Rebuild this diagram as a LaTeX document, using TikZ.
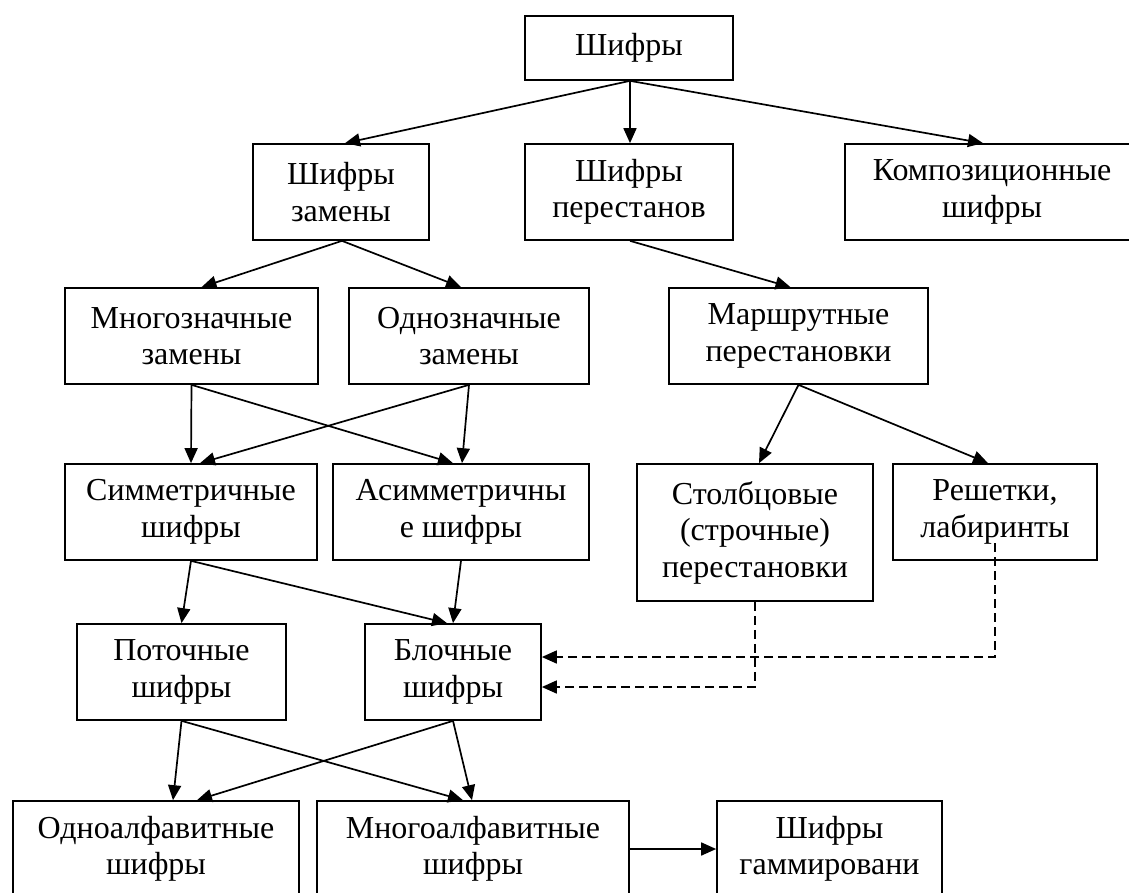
\documentclass[tikz,border=0pt]{standalone}
\usepackage{fontspec}
\setmainfont{Liberation Serif}
\usetikzlibrary{arrows.meta}
\begin{document}
\begin{tikzpicture}[x=1pt,y=-1pt,
  box/.style={draw,line width=1.7pt,align=center,inner sep=0pt,
    font=\fontsize{32}{36.5}\selectfont,minimum height=96pt},
  arr/.style={line width=1.7pt,-{Triangle[length=15pt,width=13pt]}},
  darr/.style={arr,dash pattern=on 9pt off 5pt}]
\useasboundingbox (0,0) rectangle (1129,892);
\clip (0,0) rectangle (1129,892);
\fill[white] (0,0) rectangle (1129,892);
% row 0
\node[box,minimum width=208pt,minimum height=64pt] (sh) at (629,48) {Шифры};
% row 1
\node[box,minimum width=176pt] (zam) at (341,192) {Шифры\\замены};
\node[box,minimum width=208pt] (per) at (629,192) {Шифры\\перестанов};
\node[box,minimum width=294pt] (komp) at (992,192) {Композиционные\\шифры};
% row 2
\node[box,minimum width=253pt] (mnz) at (191.5,336) {Многозначные\\замены};
\node[box,minimum width=240pt] (odz) at (469,336) {Однозначные\\замены};
\node[box,minimum width=259pt] (mar) at (798.5,336) {Маршрутные\\перестановки};
% row 3
\node[box,minimum width=252pt] (sim) at (191,512) {Симметричные\\шифры};
\node[box,minimum width=256pt] (asim) at (461,512) {Асимметричны\\е шифры};
\node[box,minimum width=236pt,minimum height=137pt] (stol) at (755,532.5) {Столбцовые\\(строчные)\\перестановки};
\node[box,minimum width=204pt] (resh) at (995,512) {Решетки,\\лабиринты};
% row 4
\node[box,minimum width=209pt] (pot) at (181.5,672) {Поточные\\шифры};
\node[box,minimum width=176pt] (blo) at (453,672) {Блочные\\шифры};
% row 5
\node[box,minimum width=286pt] (odna) at (156,849) {Одноалфавитные\\шифры};
\node[box,minimum width=312pt] (mnoa) at (473,849) {Многоалфавитные\\шифры};
\node[box,minimum width=225pt] (gam) at (829.5,849) {Шифры\\гаммировани};
% arrows
\draw[arr] ([xshift=1pt]sh.south) -- ([xshift=4pt]zam.north);
\draw[arr] ([xshift=1pt]sh.south) -- ([xshift=1pt]per.north);
\draw[arr] ([xshift=1pt]sh.south) -- ([xshift=-9pt]komp.north);
\draw[arr] ([xshift=1pt]zam.south) -- ([xshift=10pt]mnz.north);
\draw[arr] ([xshift=1pt]zam.south) -- ([xshift=-8pt]odz.north);
\draw[arr] ([xshift=1pt]per.south) -- ([xshift=-8pt]mar.north);
\draw[arr] (mnz.south) -- ([xshift=0pt]sim.north);
\draw[arr] (mnz.south) -- ([xshift=-8pt]asim.north);
\draw[arr] (odz.south) -- ([xshift=9pt]sim.north);
\draw[arr] (odz.south) -- ([xshift=1pt]asim.north);
\draw[arr] (mar.south) -- ([xshift=4pt]stol.north);
\draw[arr] (mar.south) -- ([xshift=-7pt]resh.north);
\draw[arr] (sim.south) -- ([xshift=0pt]pot.north);
\draw[arr] (sim.south) -- ([xshift=-6pt]blo.north);
\draw[arr] (asim.south) -- ([xshift=0pt]blo.north);
\draw[arr] (pot.south) -- ([xshift=17pt]odna.north);
\draw[arr] (pot.south) -- ([xshift=-10pt]mnoa.north);
\draw[arr] (blo.south) -- ([xshift=41pt]odna.north);
\draw[arr] (blo.south) -- ([xshift=-1pt]mnoa.north);
\draw[arr] (mnoa.east) -- (gam.west);
% dashed
\coordinate (rs) at (995,543);
\draw[darr] (stol.south) |- ([yshift=-15pt]blo.east);
\draw[darr] (rs) |- (blo.east |- 0,657);
\end{tikzpicture}
\end{document}
